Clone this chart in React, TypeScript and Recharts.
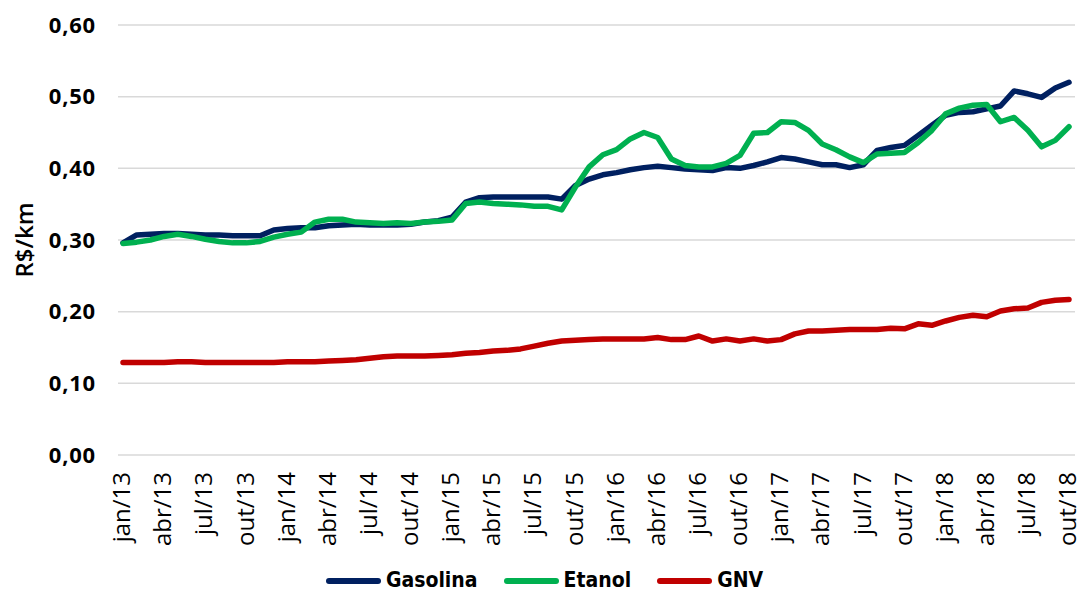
import React from 'react';
import { LineChart, Line, XAxis, YAxis, CartesianGrid, Legend, Label } from 'recharts';

const monthNames = ['jan', 'fev', 'mar', 'abr', 'mai', 'jun', 'jul', 'ago', 'set', 'out', 'nov', 'dez'];
const years = ['13', '14', '15', '16', '17', '18'];
const monthCount = 70;

const gasolina = [
  0.296, 0.307, 0.308, 0.309, 0.309, 0.308, 0.307, 0.307, 0.306, 0.306, 0.306, 0.314,
  0.316, 0.317, 0.317, 0.320, 0.321, 0.322, 0.321, 0.321, 0.321, 0.322, 0.325, 0.327,
  0.332, 0.353, 0.359, 0.360, 0.360, 0.360, 0.360, 0.360, 0.357, 0.376, 0.385, 0.391,
  0.394, 0.398, 0.401, 0.403, 0.401, 0.399, 0.398, 0.397, 0.401, 0.400, 0.404, 0.409,
  0.415, 0.413, 0.409, 0.405, 0.405, 0.401, 0.405, 0.425, 0.429, 0.432, 0.446, 0.460,
  0.474, 0.478, 0.479, 0.483, 0.487, 0.508, 0.504, 0.499, 0.512, 0.520,
];

const etanol = [
  0.295, 0.297, 0.300, 0.305, 0.308, 0.305, 0.301, 0.298, 0.296, 0.296, 0.298, 0.304,
  0.308, 0.311, 0.325, 0.329, 0.329, 0.325, 0.324, 0.323, 0.324, 0.323, 0.325, 0.326,
  0.328, 0.351, 0.353, 0.351, 0.350, 0.349, 0.347, 0.347, 0.342, 0.374, 0.402, 0.419,
  0.426, 0.441, 0.450, 0.443, 0.413, 0.404, 0.402, 0.402, 0.407, 0.418, 0.449, 0.450,
  0.465, 0.464, 0.453, 0.434, 0.426, 0.416, 0.408, 0.420, 0.421, 0.422, 0.436, 0.453,
  0.476, 0.484, 0.488, 0.489, 0.465, 0.471, 0.453, 0.430, 0.439, 0.458,
];

const gnv = [
  0.129, 0.129, 0.129, 0.129, 0.130, 0.130, 0.129, 0.129, 0.129, 0.129, 0.129, 0.129,
  0.130, 0.130, 0.130, 0.131, 0.132, 0.133, 0.135, 0.137, 0.138, 0.138, 0.138, 0.139,
  0.140, 0.142, 0.143, 0.145, 0.146, 0.148, 0.152, 0.156, 0.159, 0.160, 0.161, 0.162,
  0.162, 0.162, 0.162, 0.164, 0.161, 0.161, 0.166, 0.159, 0.162, 0.159, 0.162, 0.159,
  0.161, 0.169, 0.173, 0.173, 0.174, 0.175, 0.175, 0.175, 0.177, 0.176, 0.183, 0.181,
  0.187, 0.192, 0.195, 0.193, 0.201, 0.204, 0.205, 0.213, 0.216, 0.217,
];

const yTicks = [0, 0.1, 0.2, 0.3, 0.4, 0.5, 0.6];

const seriesInfo = [
  { key: 'Gasolina', color: '#002060' },
  { key: 'Etanol', color: '#00B050' },
  { key: 'GNV', color: '#C00000' },
];

const categories: string[] = [];
for (let i = 0; i < monthCount; i++) {
  categories.push(`${monthNames[i % 12]}/${years[Math.floor(i / 12)]}`);
}

const data = categories.map((m, i) => ({
  month: m,
  Gasolina: gasolina[i],
  Etanol: etanol[i],
  GNV: gnv[i],
}));

const fmt = (v: number) => v.toFixed(2).replace('.', ',');

const XTick = (props: any) => {
  const { x, y, payload } = props;
  const ty = y + 17;
  return (
    <text
      x={x}
      y={ty}
      transform={`rotate(-90, ${x}, ${ty})`}
      textAnchor="end"
      dy="0.3em"
      fontSize={24}
      fontFamily="'Open Sans', sans-serif"
      fill="#000"
    >
      {payload.value}
    </text>
  );
};

const YLabel = (props: any) => {
  const vb = props.viewBox || { x: 0, y: 25, width: 118, height: 430 };
  const cx = vb.x + 33;
  const cy = vb.y + vb.height / 2;
  return (
    <text
      x={cx}
      y={cy}
      transform={`rotate(-90, ${cx}, ${cy})`}
      textAnchor="middle"
      fontSize={24}
      fontWeight={600}
      fontFamily="'Open Sans', sans-serif"
      fill="#000"
    >
      R$/km
    </text>
  );
};

const LegendContent = () => (
  <div
    style={{
      display: 'flex',
      justifyContent: 'center',
      alignItems: 'center',
      height: 20,
      gap: 26,
      paddingLeft: 6,
      fontFamily: "'DejaVu Sans Condensed', 'DejaVu Sans', sans-serif",
      fontStretch: 'condensed',
      fontWeight: 'bold',
      fontSize: 21,
      color: '#000',
      lineHeight: '20px',
    }}
  >
    {seriesInfo.map((s) => (
      <div key={s.key} style={{ display: 'flex', alignItems: 'center', height: 20 }}>
        <svg width={55} height={10} style={{ display: 'block', marginTop: 2 }}>
          <line x1={3} y1={5} x2={52} y2={5} stroke={s.color} strokeWidth={6} strokeLinecap="round" />
        </svg>
        <span style={{ marginLeft: 5 }}>{s.key}</span>
      </div>
    ))}
  </div>
);

export default function App() {
  return (
    <div style={{ position: 'absolute', left: 0, top: 0, width: 1083, height: 591, background: '#fff' }}>
      <LineChart width={1083} height={591} data={data} margin={{ top: 25, right: 8, left: 0, bottom: 16 }}>
        <CartesianGrid vertical={false} stroke="#D9D9D9" strokeWidth={1.5} />
        <XAxis
          dataKey="month"
          interval={2}
          axisLine={false}
          tickLine={false}
          tickSize={0}
          tickMargin={0}
          height={100}
          padding={{ left: 5, right: 6 }}
          tick={<XTick />}
        />
        <YAxis
          domain={[0, 0.6]}
          ticks={yTicks}
          width={118}
          axisLine={false}
          tickLine={false}
          tickSize={0}
          tickMargin={22}
          tickFormatter={fmt}
          tick={{ fill: '#000', fontSize: 22, fontWeight: 700, fontFamily: "'Open Sans', sans-serif", letterSpacing: 0.8 }}
        >
          <Label content={<YLabel />} />
        </YAxis>
        <Legend
          verticalAlign="bottom"
          content={<LegendContent />}
          wrapperStyle={{ top: 570, left: 0, width: 1083, height: 20 }}
        />
        {seriesInfo.map((s) => (
          <Line
            key={s.key}
            type="linear"
            dataKey={s.key}
            stroke={s.color}
            strokeWidth={5.5}
            dot={false}
            activeDot={false}
            strokeLinecap="round"
            strokeLinejoin="round"
            isAnimationActive={false}
          />
        ))}
      </LineChart>
    </div>
  );
}
